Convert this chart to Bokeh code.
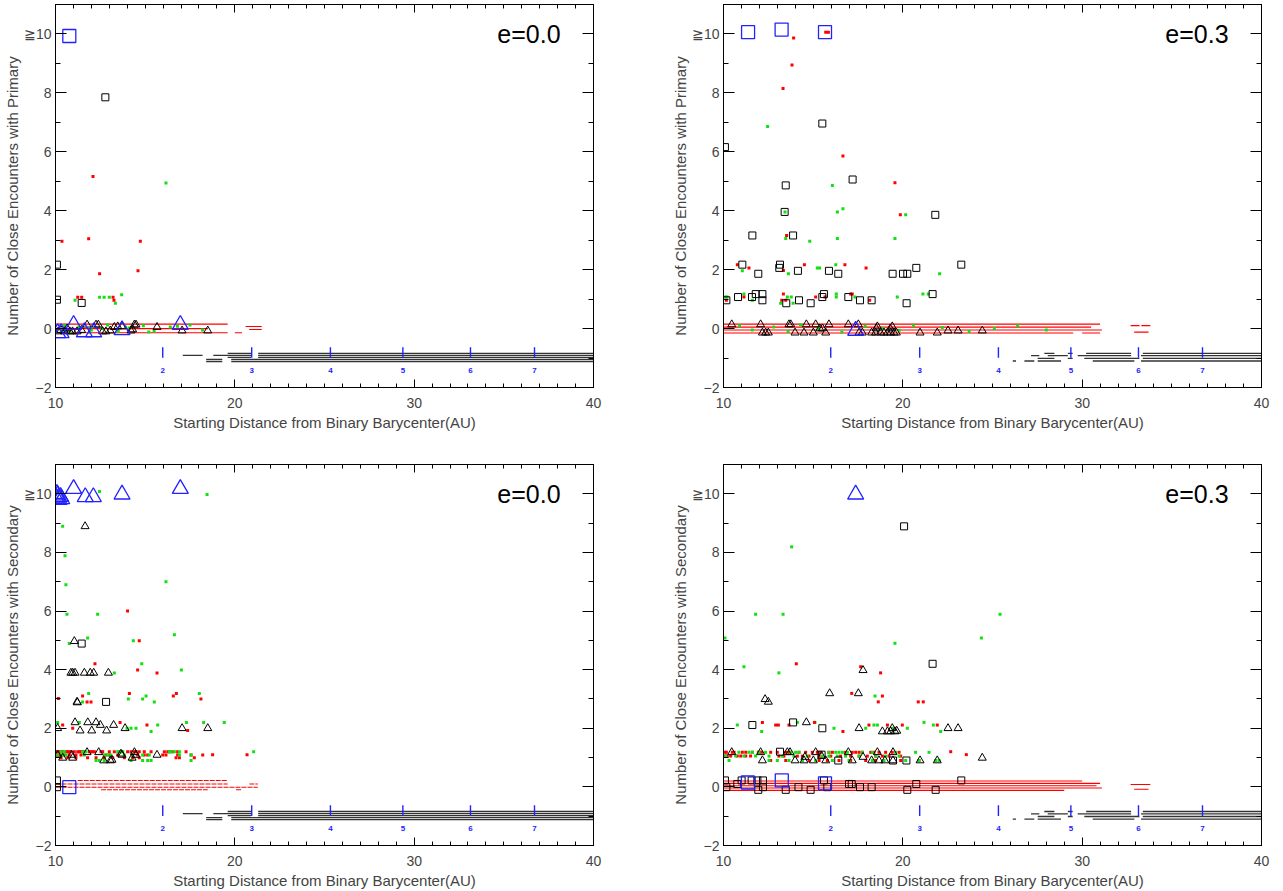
from bokeh.plotting import figure
from bokeh.models import LinearAxis, FixedTicker, Range1d, Label
from bokeh.layouts import column, row
from bokeh.core.properties import value
from bokeh.embed import file_html
from bokeh.resources import INLINE

FONT = "Liberation Sans"
X_LABEL = "Starting Distance from Binary Barycenter(AU)"
Y_LABEL_TOP = "Number of Close Encounters with Primary"
Y_LABEL_BOT = "Number of Close Encounters with Secondary"
PANEL_TITLES = ["e=0.0", "e=0.3", "e=0.0", "e=0.3"]

X_TICKS = [10, 20, 30, 40]
X_MINOR = list(range(10, 41))
Y_TICKS = [-2, 0, 2, 4, 6, 8, 10]
Y_MINOR = list(range(-2, 12))
Y_TICK_TEXT = {-2: "\u22122", 0: "0", 2: "2", 4: "4", 6: "6", 8: "8", 10: "\u226710"}

# resonance locations (period ratio labels)
RES_X = [15.98, 20.94, 25.33, 29.37, 33.14, 36.71]
RES_LABELS = ["2", "3", "4", "5", "6", "7"]

# ---------------- TOP LEFT (e=0.0, primary) ----------------
TL_RED_X = [12.09, 10.36, 11.85, 14.73, 12.46, 14.60, 11.24, 11.46, 13.21, 13.26]
TL_RED_Y = [5.16, 2.96, 3.05, 2.96, 1.86, 1.96, 1.06, 1.06, 1.06, 0.96]
TL_GRN_X = [16.16, 11.09, 12.46, 12.71, 13.00, 13.34, 13.69,
            10.5, 11.3, 12.0, 12.9, 13.5, 14.1, 14.9, 15.5, 16.4, 17.5, 18.2, 10.8, 11.9, 12.6, 13.9, 15.2, 16.8]
TL_GRN_Y = [4.94, 0.96, 1.06, 1.06, 1.06, 0.86, 1.15,
            0.10, 0.05, -0.05, 0.12, -0.10, 0.02, 0.10, -0.08, 0.05, 0.12, -0.05, -0.10, -0.12, 0.00, 0.05, -0.12, 0.08]
TL_BSQ_X = [12.78, 10.08, 10.08, 11.46]
TL_BSQ_Y = [7.85, 2.17, 0.98, 0.87]
TL_BLUSQ_X = [10.77]
TL_BLUSQ_Y = [9.93]
TL_BTRI_X = [11.76, 12.26, 12.39, 13.28, 13.47, 13.71, 14.40, 14.49, 15.66, 10.15, 10.30, 10.50,
             10.65, 10.80, 10.95, 11.20, 11.45, 12.63, 12.81, 13.05, 14.21, 14.30, 17.06, 18.49]
TL_BTRI_Y = [0.13, 0.13, 0.13, 0.05, 0.07, 0.07, 0.13, 0.13, 0.05, -0.10, -0.05, -0.10,
             0.00, -0.10, -0.10, -0.10, -0.05, -0.10, -0.10, -0.07, -0.07, -0.03, -0.07, -0.07]
TL_BLUTRI_X = [11.01, 16.96, 10.12, 10.31, 11.61, 12.13, 13.71]
TL_BLUTRI_Y = [0.13, 0.13, -0.15, -0.15, -0.12, -0.12, -0.05]
TL_RSEG_X0 = [10, 10, 10, 20.0, 20.6, 20.8]
TL_RSEG_X1 = [19.6, 18.5, 19.6, 20.4, 21.5, 21.5]
TL_RSEG_Y = [0.15, 0.0, -0.14, -0.14, 0.07, -0.03]

# black tracks near -1 (left column, e=0.0)
L_BSEG_X0 = [19.6, 21.3, 17.1, 18.8, 21.3, 19.6, 21.3, 18.4, 19.8, 18.4, 19.8]
L_BSEG_X1 = [20.9, 40.0, 18.2, 20.9, 40.0, 20.9, 40.0, 19.3, 40.0, 19.3, 40.0]
L_BSEG_Y = [-0.84, -0.84, -0.91, -0.91, -0.91, -0.98, -0.98, -1.05, -1.05, -1.12, -1.12]

# black tracks near -1 (right column, e=0.3)
R_BSEG_X0 = [27.89, 29.20, 30.22, 33.38, 27.15, 28.08, 29.75, 33.28, 27.52, 29.20, 30.12, 33.38,
             26.13, 26.78, 27.52, 30.59, 33.28]
R_BSEG_X1 = [28.45, 29.47, 32.73, 40.0, 27.61, 29.20, 32.73, 40.0, 28.45, 29.47, 33.19, 40.0,
             26.31, 27.33, 28.82, 32.91, 40.0]
R_BSEG_Y = [-0.84, -0.84, -0.84, -0.84, -0.92, -0.92, -0.92, -0.92, -1.01, -1.01, -1.01, -1.01,
            -1.10, -1.10, -1.10, -1.10, -1.10]

# ---------------- TOP RIGHT (e=0.3, primary) ----------------
TR_RED_X = [15.70, 15.85, 13.91, 13.82, 13.32, 16.66, 19.56, 19.86, 13.52, 10.77, 11.42, 14.51, 16.77,
            17.95, 13.34, 10.16, 11.14, 13.34, 13.25, 13.47, 15.14, 15.66, 17.09, 17.18, 18.15]
TR_RED_Y = [10.06, 10.06, 9.86, 8.95, 8.15, 5.86, 4.95, 3.86, 3.16, 2.17, 2.06, 2.17, 2.17,
            2.06, 1.97, 0.96, 1.07, 1.17, 0.96, 0.96, 1.07, 1.07, 1.17, 1.17, 0.96]
TR_GRN_X = [12.46, 16.07, 16.35, 16.66, 13.43, 20.16, 13.47, 14.81, 16.35, 19.56, 11.05, 13.62, 15.23,
            15.36, 16.26, 22.05, 10.12, 10.20, 11.14, 11.61, 13.78, 13.56, 13.19, 13.88, 16.29, 16.29,
            17.33, 19.69, 21.12, 21.42,
            10.9, 11.6, 12.8, 13.6, 14.3, 15.3, 16.6, 17.9, 18.9, 19.8, 20.6, 22.2, 23.7, 25.1, 26.4, 28.0]
TR_GRN_Y = [6.86, 4.86, 3.96, 4.07, 3.96, 3.86, 3.06, 2.96, 3.06, 3.06, 1.96, 1.86, 2.06,
            2.06, 2.17, 1.86, 1.07, 1.07, 1.17, 0.96, 1.07, 1.07, 0.86, 0.86, 1.17, 1.07,
            1.07, 1.07, 1.17, 1.17,
            0.10, -0.05, 0.05, -0.10, 0.12, 0.00, -0.12, 0.08, 0.00, -0.06, 0.10, 0.04, -0.10, 0.00, 0.10, -0.05]
TR_BSQ_X = [10.08, 15.51, 13.47, 17.20, 13.41, 11.61, 13.88, 21.81, 11.05, 13.15, 13.11, 11.94, 14.15,
            15.88, 16.40, 19.43, 20.01, 20.25, 20.75, 23.26, 10.16, 10.81, 11.59, 11.80, 12.17, 12.17,
            13.50, 14.21, 14.86, 15.60, 15.51, 16.96, 17.61, 18.26, 20.21, 21.66]
TR_BSQ_Y = [6.16, 6.96, 4.86, 5.06, 3.96, 3.16, 3.16, 3.86, 2.17, 2.17, 2.06, 1.86, 1.96,
            1.96, 1.86, 1.86, 1.86, 1.86, 2.06, 2.17, 0.96, 1.07, 1.07, 1.17, 1.17, 0.96,
            0.86, 0.96, 0.86, 1.17, 1.07, 1.07, 0.96, 0.96, 0.86, 1.17]
TR_BLUSQ_X = [11.37, 13.24, 15.66]
TR_BLUSQ_Y = [10.06, 10.15, 10.06]
TR_BTRI_X = [10.46, 12.07, 13.65, 13.75, 14.62, 15.14, 15.88, 16.96, 17.52, 18.58, 19.41,
             12.17, 12.35, 12.50, 13.99, 14.49, 15.01, 15.70, 17.56, 17.74, 18.26, 18.48, 18.76,
             18.95, 19.14, 19.32, 19.51, 19.64, 20.96, 21.92, 22.52, 23.08, 24.43,
             15.37, 15.52, 18.52, 19.30]
TR_BTRI_Y = [0.14, 0.14, 0.14, 0.14, 0.14, 0.14, 0.14, 0.14, 0.14, 0.07, 0.07,
             -0.14, -0.14, -0.14, -0.14, -0.14, -0.14, -0.14, -0.14, -0.14, -0.14, -0.14, -0.14,
             -0.14, -0.14, -0.14, -0.14, -0.14, -0.14, -0.14, -0.07, -0.07, -0.07,
             0.00, 0.00, 0.00, 0.00]
TR_BLUTRI_X = [17.37]
TR_BLUTRI_Y = [-0.07]
TR_RSEG_X0 = [10, 10, 10, 10, 30.0, 32.7, 33.3, 32.9]
TR_RSEG_X1 = [31.0, 30.5, 31.1, 29.5, 31.0, 33.2, 33.8, 33.7]
TR_RSEG_Y = [0.15, 0.05, -0.05, -0.15, -0.15, 0.10, 0.10, -0.12]

# ---------------- BOTTOM LEFT (e=0.0, secondary) ----------------
BL_BLUTRI_X = [11.01, 11.66, 12.11, 13.71, 16.96, 10.05, 10.12, 10.20, 10.28, 10.35, 10.08, 10.18]
BL_BLUTRI_Y = [10.17, 9.89, 9.89, 9.98, 10.17, 9.85, 9.95, 9.80, 9.90, 9.82, 10.00, 9.88]
BL_BLUSQ_X = [10.77]
BL_BLUSQ_Y = [-0.01]
BL_BTRI_X = [11.65, 11.05, 10.86, 10.96, 11.09, 11.61, 11.94, 12.13, 12.95, 11.20, 11.22, 10.12, 11.09,
             11.80, 12.26, 12.50, 13.24, 11.37, 12.02, 12.85, 13.88, 17.06, 18.49, 10.12, 10.40, 10.90,
             10.96, 11.76, 12.41, 12.69, 13.06, 13.15, 13.65, 13.71, 14.27, 14.40, 14.49, 15.66]
BL_BTRI_Y = [8.89, 4.97, 3.89, 3.89, 3.89, 3.89, 3.89, 3.89, 3.89, 2.90, 2.88, 2.00, 2.20,
             2.20, 2.20, 2.11, 2.11, 1.92, 1.92, 1.92, 2.00, 2.00, 2.00, 1.09, 0.99, 1.09,
             0.99, 1.18, 1.18, 0.90, 0.90, 0.92, 1.13, 1.09, 0.99, 1.18, 1.09, 1.09]
BL_BSQ_X = [11.46, 12.82, 10.08, 10.08]
BL_BSQ_Y = [4.89, 2.90, 0.22, -0.01]
BL_GRN_X = [12.45, 18.45, 10.40, 10.53, 10.58, 16.16, 10.64, 12.35, 11.79, 10.77, 14.34, 16.63, 14.81,
            17.02, 13.28, 11.85, 14.06, 14.86, 15.05, 15.51, 18.02, 11.51, 10.12, 11.33, 13.99, 14.21,
            14.49, 15.70, 15.33, 17.30, 18.26, 19.41, 21.05]
BL_GRN_Y = [10.08, 9.98, 8.89, 7.89, 6.90, 7.00, 5.89, 5.89, 5.08, 4.89, 4.99, 5.19, 4.20,
            3.99, 3.89, 3.19, 3.00, 3.00, 3.10, 2.90, 3.19, 2.90, 2.20, 2.20, 2.00, 2.00,
            2.00, 2.11, 1.89, 2.20, 2.20, 2.20, 1.20]
BL_RED_X = [14.02, 14.67, 12.20, 14.58, 15.66, 11.51, 11.76, 11.98, 14.12, 16.57, 16.74, 18.11, 10.16,
            10.40, 10.96, 13.60, 15.10, 17.37, 18.76, 20.68]
BL_RED_Y = [6.00, 4.99, 4.20, 3.99, 3.89, 3.10, 2.90, 2.90, 3.19, 3.10, 3.19, 3.00, 3.02,
            2.11, 2.00, 2.20, 2.11, 1.92, 1.10, 1.10]
# dense band near one encounter
BL_BAND_RED_X = [10.03, 10.12, 10.21, 10.31, 10.40, 10.59, 10.68, 10.77, 10.86, 11.05, 11.24, 11.33, 11.42,
                 11.51, 11.61, 11.89, 11.98, 12.07, 12.17, 12.54, 12.63, 13.00, 13.28, 13.56, 14.02, 14.21,
                 14.40, 14.49, 14.67, 14.95, 15.33, 16.07, 16.26, 16.35, 16.53, 16.81, 17.28,
                 10.03, 10.21, 10.49, 10.77, 11.14, 11.42, 12.82, 13.00, 13.47, 14.58, 14.95, 15.14,
                 15.98, 16.16, 16.81, 17.56, 18.21,
                 10.31, 10.68, 11.14, 11.79, 12.26, 12.72, 13.19, 13.84, 14.30, 14.67, 16.72, 16.91, 17.74]
BL_BAND_RED_Y = [1.20] * 37 + [1.09] * 17 + [0.99] * 13
BL_BAND_GRN_X = [10.31, 10.49, 11.51, 11.70, 13.47, 13.65, 13.75, 16.35, 16.44, 16.63, 16.91,
                 10.12, 10.40, 10.59, 11.61, 12.72, 12.91, 13.09, 13.84, 14.30, 14.86, 15.23, 16.91, 17.56,
                 12.26, 12.44, 12.72, 14.21, 14.86, 15.14, 15.33, 17.56]
BL_BAND_GRN_Y = [1.20] * 11 + [1.09] * 13 + [0.90] * 8
BL_RSEG_X0 = [11.24, 10.00, 20.81, 10.00, 12.54, 20.07]
BL_RSEG_X1 = [19.60, 19.60, 21.28, 21.28, 18.49, 20.35]
BL_RSEG_Y = [0.22, 0.10, 0.10, -0.01, -0.10, -0.10]

# ---------------- BOTTOM RIGHT (e=0.3, secondary) ----------------
BR_BLUTRI_X = [17.37]
BR_BLUTRI_Y = [9.98]
BR_BLUSQ_X = [11.36, 13.25, 15.66]
BR_BLUSQ_Y = [0.15, 0.22, 0.12]
BR_BSQ_X = [20.07, 21.66, 11.61, 13.88, 15.51, 13.15, 15.47, 16.40, 19.45, 20.20, 10.08, 10.16, 10.77,
            11.01, 11.57, 11.89, 12.20, 12.20, 11.94, 13.47, 14.18, 14.86, 15.60, 15.79, 17.00, 17.15,
            17.61, 18.26, 20.25, 20.75, 21.83, 23.26]
BR_BSQ_Y = [8.89, 4.20, 2.11, 2.20, 2.00, 1.20, 1.10, 0.90, 0.90, 0.90, 0.22, -0.01, 0.10,
            0.22, 0.22, 0.22, 0.22, -0.01, -0.10, -0.10, -0.01, -0.10, 0.22, -0.01, 0.10, 0.10,
            -0.01, -0.01, -0.10, 0.10, -0.10, 0.22]
BR_BTRI_X = [17.78, 15.92, 17.52, 12.32, 12.50, 14.62, 17.56, 18.86, 19.14, 19.32, 19.56, 19.66, 19.41,
             22.52, 23.08, 10.46, 12.07, 13.56, 13.71, 15.14, 16.96, 18.58, 19.45, 12.17, 13.99, 14.49,
             15.01, 15.70, 17.18, 18.26, 18.67, 19.00, 19.45, 20.96, 21.92, 24.43, 14.54, 15.47, 17.78]
BR_BTRI_Y = [3.98, 3.19, 3.19, 2.99, 2.90, 2.20, 2.00, 1.89, 1.89, 1.89, 1.89, 1.91, 2.00,
             2.00, 2.00, 1.18, 1.18, 1.18, 1.18, 1.18, 1.18, 1.18, 1.18, 0.90, 0.90, 0.90,
             0.90, 0.90, 0.90, 0.90, 0.90, 0.90, 0.90, 0.90, 0.90, 0.99, 1.02, 1.05, 1.02]
BR_GRN_X = [13.80, 11.79, 13.32, 25.42, 10.08, 24.38, 19.56, 11.14, 13.09, 18.45, 10.77, 12.13, 14.12,
            15.10, 16.16, 17.93, 18.39, 18.58, 19.45, 20.25, 21.18, 21.70, 22.11]
BR_GRN_Y = [8.19, 5.89, 5.89, 5.89, 5.08, 5.08, 4.90, 4.10, 3.89, 3.10, 2.11, 1.89, 2.20,
            2.20, 2.00, 2.00, 2.11, 2.11, 2.00, 2.00, 2.20, 2.11, 1.89]
BR_RED_X = [14.06, 17.65, 18.76, 17.15, 18.86, 18.63, 20.86, 21.14, 12.17, 12.91, 13.06, 13.65, 15.07,
            16.66, 18.11, 19.14, 19.97, 21.92, 22.67, 23.54]
BR_RED_Y = [4.20, 4.10, 3.89, 3.19, 3.10, 2.90, 2.90, 2.90, 2.20, 2.11, 2.11, 2.11, 2.20,
            1.89, 2.11, 2.11, 2.11, 2.11, 1.20, 1.10]
BR_BAND_RED_X = [10.08, 10.16, 10.49, 10.59, 11.05, 11.24, 11.61, 11.94, 12.02, 12.13, 12.63, 13.00, 13.47,
                 13.65, 14.21, 14.58, 14.95, 15.23, 15.42, 15.88, 16.07, 16.81, 17.18, 17.37, 17.56, 17.74,
                 18.21, 18.39, 18.67, 19.04, 19.41, 19.79,
                 10.08, 10.21, 10.40, 10.77, 10.96, 11.24, 11.51, 13.09, 13.37, 14.12, 14.40, 14.77, 15.33,
                 15.98, 16.53, 17.09, 17.56, 18.02, 18.49, 18.86, 19.23, 19.88,
                 12.63, 13.47, 14.77, 15.33, 15.79, 16.44, 17.09, 17.93, 18.49, 19.88, 20.90]
BR_BAND_RED_Y = [1.18] * 32 + [1.05] * 22 + [0.90] * 11
BR_BAND_GRN_X = [10.86, 11.42, 11.61, 11.98, 12.35, 13.75, 14.02, 14.21, 15.88, 16.26, 16.44, 16.63, 16.91,
                 17.74, 18.30, 19.60, 20.71, 21.46,
                 10.12, 10.68, 11.14, 11.79, 12.54, 13.28, 13.93, 14.67, 15.51, 15.88, 16.35, 16.81, 17.56,
                 18.49, 19.04, 19.79,
                 10.31, 12.54, 13.00, 13.65, 14.40, 15.14, 16.07, 17.00, 18.30, 18.95, 20.16, 20.90, 21.83, 22.02]
BR_BAND_GRN_Y = [1.18] * 18 + [1.05] * 16 + [0.90] * 14
BR_RSEG_X0 = [10, 10, 10, 10, 10, 32.7, 32.9]
BR_RSEG_X1 = [30.0, 31.0, 30.8, 31.1, 29.0, 33.8, 33.7]
BR_RSEG_Y = [0.20, 0.12, 0.04, -0.04, -0.12, 0.08, -0.08]

RED = "#ff0000"
GREEN = "#11e011"
BLUE = "#2222ff"
BLACK = "#000000"


def make_panel(width, height, bl, br, bb, ylabel, title):
    p = figure(width=width, height=height, x_range=Range1d(10, 40), y_range=Range1d(-2, 11),
               output_backend="svg", toolbar_location=None,
               min_border_left=bl, min_border_right=br, min_border_top=4, min_border_bottom=bb,
               x_axis_label=X_LABEL, y_axis_label=ylabel)
    p.xgrid.visible = False
    p.ygrid.visible = False
    p.outline_line_color = BLACK
    p.outline_line_width = 1
    p.background_fill_color = "white"
    p.border_fill_color = "white"

    xt = FixedTicker(ticks=X_TICKS, minor_ticks=X_MINOR)
    yt = FixedTicker(ticks=Y_TICKS, minor_ticks=Y_MINOR)

    xa = p.xaxis[0]
    xa.ticker = xt
    xa.major_tick_in = 8
    xa.major_tick_out = 0
    xa.minor_tick_in = 4
    xa.minor_tick_out = 0
    xa.major_label_standoff = 10
    xa.major_label_text_font = FONT
    xa.major_label_text_font_size = "14px"
    xa.axis_label_text_font = FONT
    xa.axis_label_text_font_size = "15px"
    xa.axis_label_text_font_style = "normal"
    xa.axis_label_standoff = 3

    ya = p.yaxis[0]
    ya.ticker = yt
    ya.major_tick_in = 11
    ya.major_tick_out = 0
    ya.minor_tick_in = 5
    ya.minor_tick_out = 0
    ya.major_label_standoff = 4
    ya.major_label_overrides = Y_TICK_TEXT
    ya.major_label_text_font = FONT
    ya.major_label_text_font_size = "14px"
    ya.axis_label_text_font = FONT
    ya.axis_label_text_font_size = "15px"
    ya.axis_label_text_font_style = "normal"
    ya.axis_label_standoff = 0

    top = LinearAxis(ticker=FixedTicker(ticks=X_TICKS, minor_ticks=X_MINOR),
                     major_tick_in=8, major_tick_out=0, minor_tick_in=4, minor_tick_out=0,
                     major_label_text_font_size="1px", major_label_text_color=None,
                     major_label_standoff=0)
    p.add_layout(top, "above")
    right = LinearAxis(ticker=FixedTicker(ticks=Y_TICKS, minor_ticks=Y_MINOR),
                       major_tick_in=11, major_tick_out=0, minor_tick_in=5, minor_tick_out=0,
                       major_label_text_font_size="1px", major_label_text_color=None,
                       major_label_standoff=0)
    p.add_layout(right, "right")

    p.add_layout(Label(x=36.4, y=10.0, text=title, text_align="center", text_baseline="middle",
                       text_font=FONT, text_font_size="25px", text_color=BLACK))
    return p


def draw_common(p, rseg, bseg, dash=None):
    x0, x1, y = rseg
    kw = {}
    if dash:
        kw["line_dash"] = dash
    p.segment(x0=x0, y0=y, x1=x1, y1=y, line_color=RED, line_width=1.1, **kw)
    bx0, bx1, by = bseg
    p.segment(x0=bx0, y0=by, x1=bx1, y1=by, line_color="#333333", line_width=1.3)
    p.segment(x0=RES_X, y0=[-0.63] * len(RES_X), x1=RES_X, y1=[-0.99] * len(RES_X),
              line_color=BLUE, line_width=1.4)
    p.text(x=RES_X, y=[-1.42] * len(RES_X), text=RES_LABELS, text_font=value(FONT),
           text_font_size=value("8px"), text_font_style="bold", text_color=BLUE,
           text_align="center", text_baseline="middle")


def draw_dots(p, xs, ys, color):
    p.scatter(x=xs, y=ys, marker="square", size=3, fill_color=color, line_color=None)


def draw_markers(p, bsq, btri, blusq, blutri):
    p.scatter(x=bsq[0], y=bsq[1], marker="square", size=7, fill_color=None, line_color=BLACK, line_width=1)
    p.scatter(x=btri[0], y=btri[1], marker="triangle", size=8, fill_color=None, line_color=BLACK, line_width=1)
    p.scatter(x=blusq[0], y=blusq[1], marker="square", size=13, fill_color=None, line_color=BLUE, line_width=1.3)
    p.scatter(x=blutri[0], y=blutri[1], marker="triangle", size=16, fill_color=None, line_color=BLUE, line_width=1.3)


# Top left
p1 = make_panel(658, 460, 55, 65, 73, Y_LABEL_TOP, PANEL_TITLES[0])
draw_common(p1, (TL_RSEG_X0, TL_RSEG_X1, TL_RSEG_Y), (L_BSEG_X0, L_BSEG_X1, L_BSEG_Y))
draw_dots(p1, TL_GRN_X, TL_GRN_Y, GREEN)
draw_dots(p1, TL_RED_X, TL_RED_Y, RED)
draw_markers(p1, (TL_BSQ_X, TL_BSQ_Y), (TL_BTRI_X, TL_BTRI_Y), (TL_BLUSQ_X, TL_BLUSQ_Y), (TL_BLUTRI_X, TL_BLUTRI_Y))

# Top right
p2 = make_panel(625, 460, 65, 22, 73, Y_LABEL_TOP, PANEL_TITLES[1])
draw_common(p2, (TR_RSEG_X0, TR_RSEG_X1, TR_RSEG_Y), (R_BSEG_X0, R_BSEG_X1, R_BSEG_Y))
draw_dots(p2, TR_GRN_X, TR_GRN_Y, GREEN)
draw_dots(p2, TR_RED_X, TR_RED_Y, RED)
draw_markers(p2, (TR_BSQ_X, TR_BSQ_Y), (TR_BTRI_X, TR_BTRI_Y), (TR_BLUSQ_X, TR_BLUSQ_Y), (TR_BLUTRI_X, TR_BLUTRI_Y))

# Bottom left
p3 = make_panel(658, 431, 55, 65, 44, Y_LABEL_BOT, PANEL_TITLES[2])
draw_common(p3, (BL_RSEG_X0, BL_RSEG_X1, BL_RSEG_Y), (L_BSEG_X0, L_BSEG_X1, L_BSEG_Y), dash="5 1")
draw_dots(p3, BL_BAND_RED_X, BL_BAND_RED_Y, RED)
draw_dots(p3, BL_BAND_GRN_X, BL_BAND_GRN_Y, GREEN)
draw_dots(p3, BL_GRN_X, BL_GRN_Y, GREEN)
draw_dots(p3, BL_RED_X, BL_RED_Y, RED)
draw_markers(p3, (BL_BSQ_X, BL_BSQ_Y), (BL_BTRI_X, BL_BTRI_Y), (BL_BLUSQ_X, BL_BLUSQ_Y), (BL_BLUTRI_X, BL_BLUTRI_Y))

# Bottom right
p4 = make_panel(625, 431, 65, 22, 44, Y_LABEL_BOT, PANEL_TITLES[3])
draw_common(p4, (BR_RSEG_X0, BR_RSEG_X1, BR_RSEG_Y), (R_BSEG_X0, R_BSEG_X1, R_BSEG_Y))
draw_dots(p4, BR_BAND_RED_X, BR_BAND_RED_Y, RED)
draw_dots(p4, BR_BAND_GRN_X, BR_BAND_GRN_Y, GREEN)
draw_dots(p4, BR_GRN_X, BR_GRN_Y, GREEN)
draw_dots(p4, BR_RED_X, BR_RED_Y, RED)
draw_markers(p4, (BR_BSQ_X, BR_BSQ_Y), (BR_BTRI_X, BR_BTRI_Y), (BR_BLUSQ_X, BR_BLUSQ_Y), (BR_BLUTRI_X, BR_BLUTRI_Y))

layout = column(row(p1, p2), row(p3, p4))
open("out.html", "w").write(file_html(layout, INLINE))
